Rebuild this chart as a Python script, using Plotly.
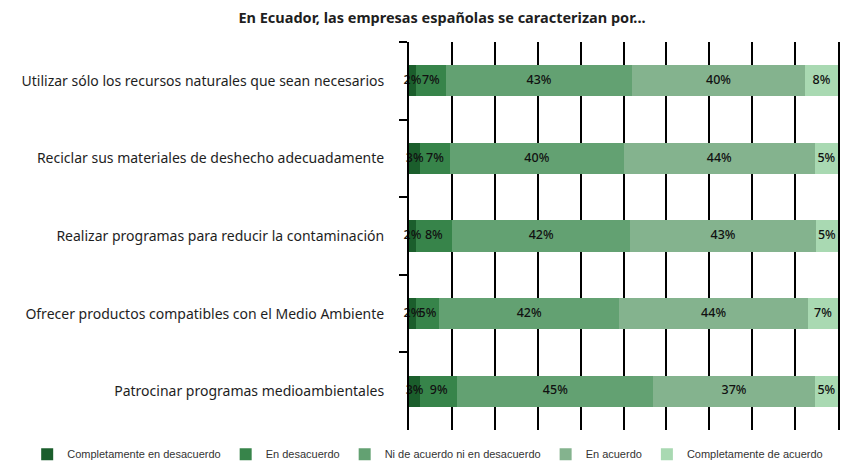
import plotly.graph_objects as go

categories = [
    "Utilizar sólo los recursos naturales que sean necesarios",
    "Reciclar sus materiales de deshecho adecuadamente",
    "Realizar programas para reducir la contaminación",
    "Ofrecer productos compatibles con el Medio Ambiente",
    "Patrocinar programas medioambientales",
]
series_names = [
    "Completamente en desacuerdo",
    "En desacuerdo",
    "Ni de acuerdo ni en desacuerdo",
    "En acuerdo",
    "Completamente de acuerdo",
]
completamente_desacuerdo = [1.6, 2.6, 1.6, 1.6, 2.6]
en_desacuerdo = [7.0, 6.8, 8.4, 5.4, 8.6]
ni_ni = [43.4, 40.2, 41.6, 42.0, 45.4]
en_acuerdo = [40.3, 44.0, 43.2, 44.0, 37.4]
completamente_acuerdo = [7.7, 5.4, 5.2, 7.0, 5.4]
x_ticks = [0, 10, 20, 30, 40, 50, 60, 70, 80, 90, 100]

series = [completamente_desacuerdo, en_desacuerdo, ni_ni, en_acuerdo, completamente_acuerdo]
colors = ["#1b5e2c", "#37844a", "#63a172", "#84b38e", "#a9d9b2"]

FONT = "Noto Sans"
fig = go.Figure()
for name, vals, col in zip(series_names, series, colors):
    fig.add_trace(go.Bar(
        y=categories, x=vals, name=name, orientation="h",
        marker=dict(color=col, line=dict(width=0)),
        textposition="none", hoverinfo="skip",
    ))

# labels centred in each (normalised) segment
totals = [sum(s[i] for s in series) for i in range(len(categories))]
tx, ty, tt = [], [], []
for i, cat in enumerate(categories):
    cum = 0.0
    for s in series:
        w = s[i] / totals[i] * 100
        tx.append(cum + w / 2)
        ty.append(cat)
        tt.append(f"{s[i]:.0f}%")
        cum += w
fig.add_trace(go.Scatter(
    x=tx, y=ty, text=tt, mode="text", showlegend=False, hoverinfo="skip",
    textfont=dict(family=FONT, size=12.5, color="#111111", weight=500), cliponaxis=False,
))

fig.update_layout(
    width=850, height=462,
    barmode="stack", barnorm="percent", bargap=0.6,
    paper_bgcolor="white", plot_bgcolor="white",
    margin=dict(l=409, r=12, t=42, b=32, autoexpand=False),
    font=dict(family=FONT, color="#1e1e1e"),
    title=dict(text="<b>En Ecuador, las empresas españolas se caracterizan por...</b>",
               x=0.52, xanchor="center", y=0.962, yanchor="middle",
               font=dict(family=FONT, size=14.5, color="#1e1e1e")),
    legend=dict(orientation="h", x=-0.89, xanchor="left",
                y=-0.025, yanchor="top",
                font=dict(family="Liberation Sans, Arial, Roboto", size=11, color="#333"),
                itemwidth=30, tracegroupgap=0, traceorder="normal"),
    showlegend=True,
)
fig.update_xaxes(range=[0, 100], tickvals=x_ticks, showticklabels=False,
                 showgrid=True, gridcolor="black", gridwidth=2,
                 zeroline=False, showline=False, ticks="", automargin=False)
fig.update_yaxes(autorange="reversed", tickson="boundaries", ticks="outside",
                 ticklen=8, tickwidth=2, tickcolor="black",
                 showline=True, linecolor="black", linewidth=2, mirror=True,
                 showgrid=False, ticklabelstandoff=20, automargin=False,
                 tickfont=dict(family=FONT, size=14, color="#1e1e1e"))

fig.write_html("out.html", config={"displayModeBar": False},
               post_script="document.body.style.margin='0';document.body.style.overflow='hidden';")
